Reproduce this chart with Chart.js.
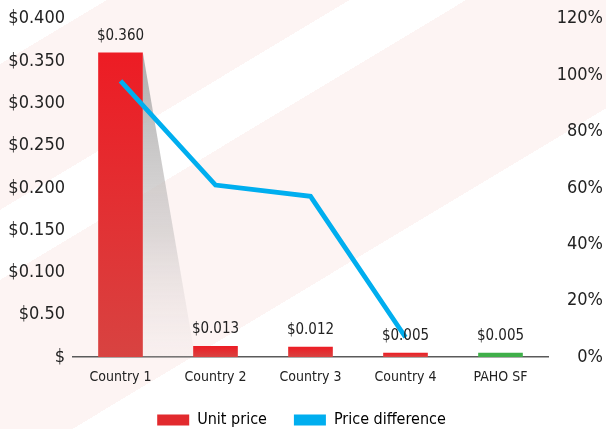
<!DOCTYPE html>
<html>
<head>
<meta charset="utf-8">
<script src="https://cdn.jsdelivr.net/npm/chart.js@4.4.1/dist/chart.umd.min.js"></script>
<style>
    html, body { margin: 0; padding: 0; }
    body {
        width: 606px;
        height: 429px;
        overflow: hidden;
        /* faint diagonal bands behind the chart */
        background: linear-gradient(149deg,
            #ffffff 0px, #ffffff 55px,
            #fdf4f3 55px, #fdf4f3 180px,
            #ffffff 180px, #ffffff 240px,
            #fdf4f3 240px, #fdf4f3 405px,
            #ffffff 405px);
    }
    #wrap { position: relative; width: 606px; height: 429px; }
</style>
</head>
<body>
<div id="wrap"><canvas id="priceChart"></canvas></div>
<script>
const categories = ['Country 1', 'Country 2', 'Country 3', 'Country 4', 'PAHO SF'];
const unitPrice = [0.360, 0.013, 0.012, 0.005, 0.005];
const priceLabels = ['$0.360', '$0.013', '$0.012', '$0.005', '$0.005'];
const priceDifference = [98, 61, 57, 7, null];
const yLeftTicks = ['$', '$0.50', '$0.100', '$0.150', '$0.200', '$0.250', '$0.300', '$0.350', '$0.400'];

const FONT = "'Liberation Sans Narrow', 'DejaVu Sans Condensed', sans-serif";
const RED_TOP = '#ed1c24';
const RED_BOTTOM = '#d84341';
const GREEN = '#3fae49';
const BLUE = '#00aeef';

// per-bar vertical gradient (bright red at top, duller at base)
function barFill(ctx) {
    const chart = ctx.chart;
    if (ctx.dataIndex === 4) return GREEN;
    const y = chart.scales.y;
    if (!chart.chartArea || !y || !ctx.parsed) return RED_TOP;
    const top = y.getPixelForValue(ctx.parsed.y);
    const base = y.getPixelForValue(0);
    if (!Number.isFinite(top) || !Number.isFinite(base) || base - top < 1) return RED_TOP;
    const g = chart.ctx.createLinearGradient(0, top, 0, base);
    g.addColorStop(0, RED_TOP);
    g.addColorStop(1, RED_BOTTOM);
    return g;
}

// grey "shadow" falling from the tall bar to the next one
const shadowPlugin = {
    id: 'shadow',
    beforeDatasetsDraw(chart) {
        const bars = chart.getDatasetMeta(1).data;
        if (bars.length < 2) return;
        const b1 = bars[0], b2 = bars[1];
        const xR = b1.x + b1.width / 2;
        const x2 = b2.x - b2.width / 2;
        const base = b1.base;
        if (![xR, x2, base, b1.y, b2.y].every(Number.isFinite)) return;
        const c = chart.ctx;
        c.save();
        const g = c.createLinearGradient(0, b1.y, 0, base);
        g.addColorStop(0, 'rgba(165,165,165,0.9)');
        g.addColorStop(0.6, 'rgba(200,196,196,0.6)');
        g.addColorStop(1, 'rgba(235,225,225,0.2)');
        c.fillStyle = g;
        c.beginPath();
        c.moveTo(xR, b1.y);
        c.lineTo(x2, b2.y);
        c.lineTo(x2, base);
        c.lineTo(xR, base);
        c.closePath();
        c.fill();
        c.restore();
    }
};

// value labels above the bars
const valueLabels = {
    id: 'valueLabels',
    afterDatasetsDraw(chart) {
        const bars = chart.getDatasetMeta(1).data;
        const c = chart.ctx;
        c.save();
        c.font = '15px ' + FONT;
        c.fillStyle = '#222';
        c.textAlign = 'center';
        c.textBaseline = 'bottom';
        bars.forEach((bar, i) => {
            c.fillText(priceLabels[i], bar.x, bar.y - 9);
        });
        c.restore();
    }
};

new Chart(document.getElementById('priceChart'), {
    data: {
        labels: categories,
        datasets: [
            {
                type: 'line',
                label: 'Price difference',
                data: priceDifference,
                yAxisID: 'y1',
                borderColor: BLUE,
                backgroundColor: BLUE,
                borderWidth: 4.8,
                pointRadius: 0,
                tension: 0,
                order: 0
            },
            {
                type: 'bar',
                label: 'Unit price',
                data: unitPrice,
                yAxisID: 'y',
                backgroundColor: barFill,
                barPercentage: 0.47,
                categoryPercentage: 1,
                order: 1
            }
        ]
    },
    options: {
        responsive: true,
        maintainAspectRatio: false,
        animation: false,
        // negative bottom padding lets the legend sit near the bottom edge
        layout: { padding: { top: 11, right: 3, left: 0, bottom: -9 } },
        plugins: {
            tooltip: { enabled: false },
            legend: {
                display: true,
                position: 'bottom',
                labels: {
                    color: '#222',
                    boxWidth: 32,
                    boxHeight: 11,
                    padding: 27,
                    font: { size: 16, family: FONT },
                    generateLabels(chart) {
                        return [
                            { text: 'Unit price', fillStyle: '#e22a2e', strokeStyle: 'transparent', lineWidth: 0, datasetIndex: 1 },
                            { text: 'Price difference', fillStyle: BLUE, strokeStyle: 'transparent', lineWidth: 0, datasetIndex: 0 }
                        ];
                    }
                }
            }
        },
        scales: {
            x: {
                grid: { display: false, drawTicks: false },
                border: { display: true, color: '#5a5a5a', width: 1.5 },
                ticks: {
                    color: '#222',
                    padding: 12,
                    maxRotation: 0,
                    font: { size: 14, family: FONT }
                },
                afterFit(scale) { scale.height = 28; }
            },
            y: {
                position: 'left',
                min: 0,
                max: 0.4,
                grid: { display: false, drawTicks: false },
                border: { display: false },
                ticks: {
                    stepSize: 0.05,
                    padding: 8,
                    color: '#222',
                    font: { size: 18, family: FONT },
                    callback: (v, i) => yLeftTicks[i]
                },
                afterFit(scale) { scale.width = 73; }
            },
            y1: {
                position: 'right',
                min: 0,
                max: 120,
                grid: { display: false, drawTicks: false },
                border: { display: false },
                ticks: {
                    stepSize: 20,
                    crossAlign: 'far',
                    color: '#222',
                    font: { size: 18, family: FONT },
                    callback: v => v + '%'
                },
                afterFit(scale) { scale.width = 55; }
            }
        }
    },
    plugins: [shadowPlugin, valueLabels]
});
</script>
</body>
</html>
